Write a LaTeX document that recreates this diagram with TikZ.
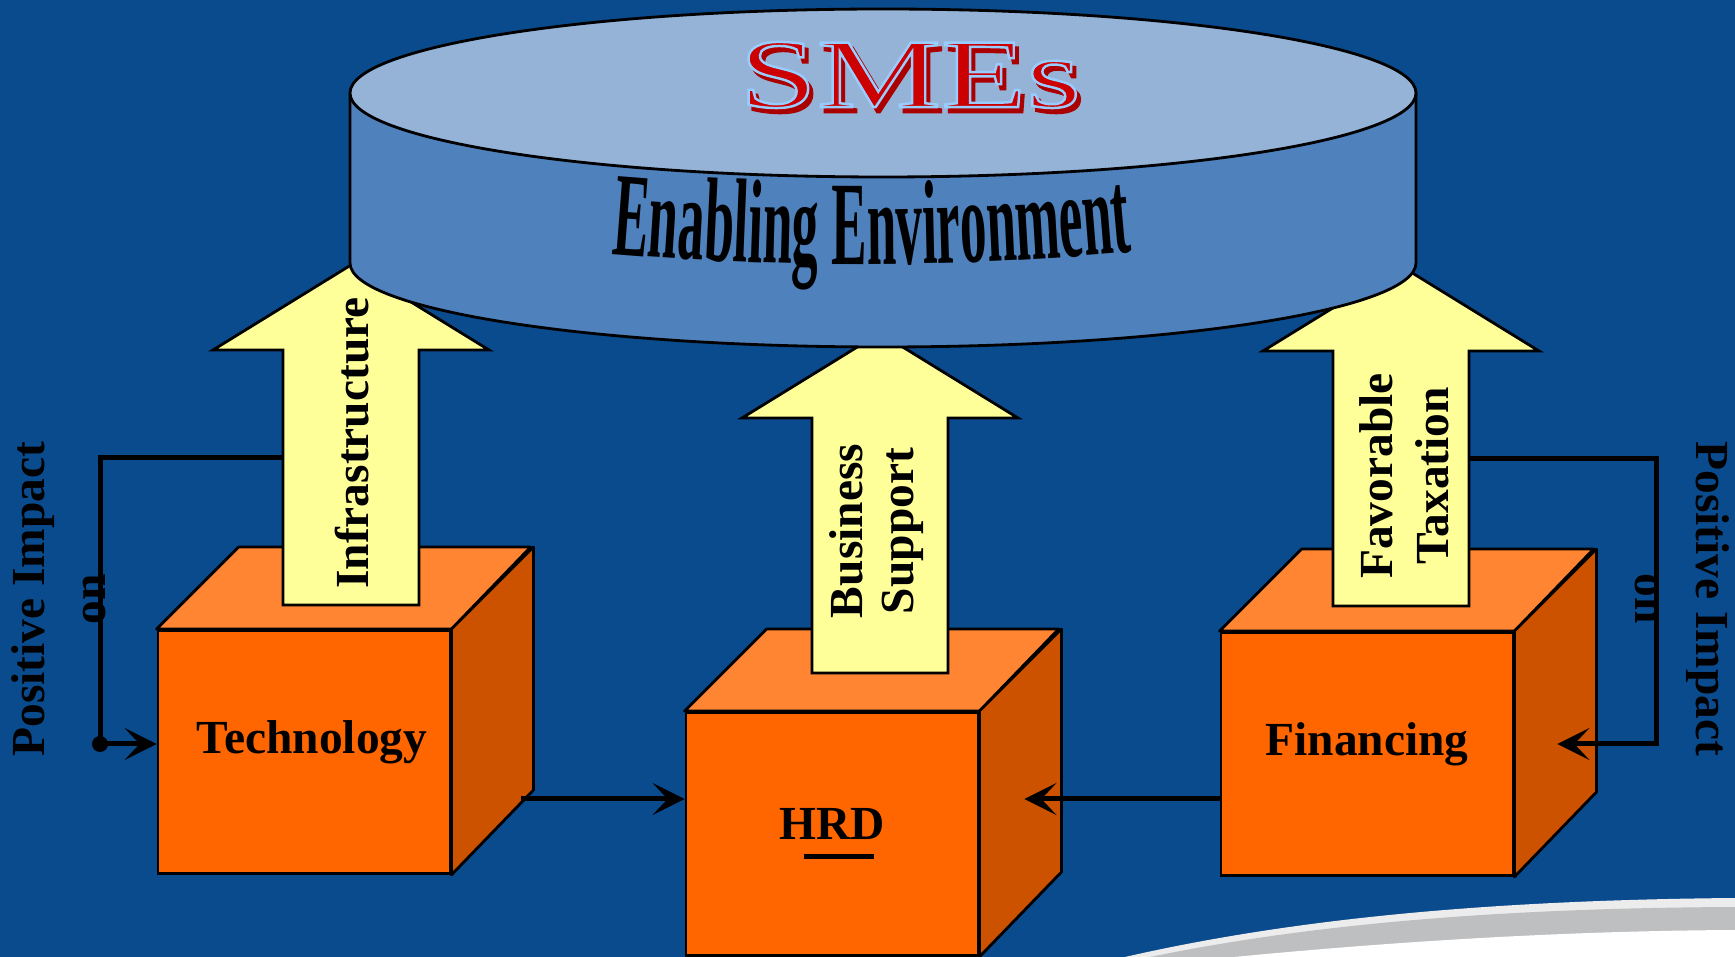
\documentclass[tikz,border=0pt]{standalone}
\usepackage{fontspec}
\setmainfont{Liberation Serif}
\newfontfamily\narrowserif[FakeStretch=0.445]{Liberation Serif}
\newfontfamily\wideserif[FakeStretch=1.42, FakeBold=2.5]{Liberation Serif}
\usetikzlibrary{calc, positioning}
\usetikzlibrary{arrows.meta}
\usetikzlibrary{decorations.text}
\definecolor{slide}{RGB}{10,75,142}
\definecolor{discTop}{RGB}{149,179,215}
\definecolor{discSide}{RGB}{79,129,189}
\definecolor{liftYellow}{RGB}{255,255,153}
\definecolor{boxFront}{RGB}{255,102,0}
\definecolor{boxTop}{RGB}{255,133,51}
\definecolor{boxSide}{RGB}{204,82,0}
\definecolor{smeRed}{RGB}{204,0,0}
\definecolor{smeShade}{RGB}{170,0,0}
\definecolor{swooshGray}{RGB}{190,191,193}
\definecolor{swooshLight}{RGB}{236,236,236}
\def\bw{29.2mm}
\def\bh{24.3mm}
\def\bd{8.2mm}
% light blue stroke for the outlined title
\newcommand\rimstroke{\special{pdf:code 0.6 0.8 1 RG}}
\newcommand\cubefont{\bfseries\fontsize{13.5}{16}\selectfont}
\newcommand\envfont{\narrowserif\bfseries\fontsize{34}{36}\selectfont}
\tikzset{
    blockface/.style = {
        draw, fill=boxFront, line width=0.8pt, minimum width=\bw, minimum height=\bh, inner sep=0pt
    },
    blocktext/.style = {font=\cubefont, inner sep=0pt},
    Block/.pic = {
        \node [blockface](-front){};
        \filldraw[fill=boxTop, line width=0.8pt, line join=round] (-front.north west) -- ++(\bd,\bd) -- ++(\bw,0) -- (-front.north east) -- cycle;
        \filldraw[fill=boxSide, line width=0.8pt, line join=round] (-front.north east) -- ++(\bd,\bd) -- ++(0,-\bh) -- (-front.south east) -- cycle;
        \node [blocktext](-text) at (0,10) {#1};
    },
}
\tikzset{
    liftbody/.style = {draw, fill=liftYellow, line width=0.8pt},
    Lift/.pic = {
        \filldraw[liftbody] (-68,0) -- (-68,255) -- (-138,255) -- (0,340) -- (138,255) -- (68,255) -- (68,0) -- cycle;
        \coordinate (-west) at (-68,147);
        \coordinate (-east) at (68,147);
    },
    lifttext/.style = {font=\cubefont, align=center, inner sep=0pt},
    impact/.style = {font=\bfseries\fontsize{13.5}{17.3}\selectfont, align=center, inner sep=0pt},
    smestyle/.style = {font=\wideserif\fontsize{28}{30}\selectfont, inner sep=0pt},
    link/.style = {line width=0.5mm, -{Stealth[length=3.2mm, width=3.2mm, inset=1.5mm]}},
}
\begin{document}
\begin{tikzpicture}[x=0.1mm, y=0.1mm]
        \useasboundingbox (0,0) rectangle (1735,957);
        \fill[slide] (0,0) rectangle (1735,957);

        % swoosh in the corner
        \fill[swooshLight] (1125,0) .. controls (1300,40) and (1500,57) .. (1735,59) -- (1735,0) -- cycle;
        \fill[swooshGray] (1150,0) .. controls (1310,33) and (1500,49) .. (1735,50) -- (1735,0) -- cycle;
        \fill[white] (1234,0) .. controls (1380,14) and (1550,26) .. (1735,27) -- (1735,0) -- cycle;

        % Place the blocks
        \pic[blocktext/.append style={xshift=0.8mm}] (tech) at (304,205) {Block={Technology}};
        \pic (hrd) at (832,123) {Block={HRD}};
        \pic (fin) at (1367,203) {Block={Financing}};
        \draw[line width=0.5mm] ($(hrd-text.south)+(-2.8mm,-1.6mm)$) -- ++(7mm,0);

        % arrows up into the disc
        \pic (infra) at (351,352) {Lift};
        \pic (bus) at (880,284) {Lift};
        \pic (fav) at (1401,351) {Lift};
        \node[lifttext, rotate=90] (infra-label) at (352,514) {Infrastructure};
        \node[lifttext, rotate=90, font=\bfseries\fontsize{13.5}{14.5}\selectfont] (bus-label) at (877,426) {Business\\Support};
        \node[lifttext, rotate=90, font=\bfseries\fontsize{13.5}{16}\selectfont] (fav-label) at (1404,481) {Favorable\\Taxation};

        % the disc
        \filldraw[fill=discSide, line width=0.8pt] (350,864) -- (350,694) arc[start angle=180, end angle=360, x radius=53.3mm, y radius=8.4mm] -- (1416,864);
        \filldraw[fill=discTop, line width=0.8pt] (883,864) ellipse[x radius=53.3mm, y radius=8.4mm];

        % title: shade first, then the outlined letters
        \node[smestyle, text=smeShade] (smes-shade) at (914,877) {SMEs};
        \node[smestyle, text=smeRed] (smes) at (910,882) {\rimstroke SMEs};
        \path[decorate, decoration={text along path, text align=center, text={|\envfont|Enabling Environment}}]
            (612,703) .. controls (780,689) and (960,689) .. (1132,705);

        % Draw connections
        \coordinate (tapL) at (100,213);
        \coordinate (tapR) at (1656,213);
        \coordinate (midrow) at (0,158);
        \draw[link] (infra-west) -| (tapL) -- (tech-front.west |- tapL);
        \fill (tapL) circle[radius=0.8mm];
        \draw[link] (fav-east) -| (tapR) -- ($(fin-front.east |- tapR)+(4.3mm,0)$);
        \draw[link] ($(tech-front.east |- midrow)+(7mm,0)$) -- (hrd-front.west |- midrow);
        \draw[link] (fin-front.west |- midrow) -- ($(hrd-front.east |- midrow)+(4.5mm,0)$);

        \node[impact, rotate=90] (impL) at (59,358) {Positive Impact\\on};
        \node[impact, rotate=-90] (impR) at (1682,358) {Positive Impact\\on};
\end{tikzpicture}
\end{document}
